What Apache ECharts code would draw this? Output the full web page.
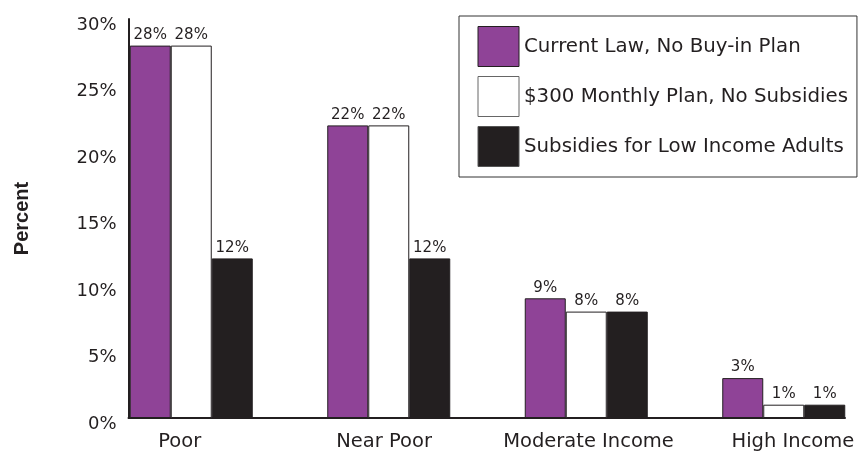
<!DOCTYPE html>
<html><head><meta charset="utf-8">
<script src="https://cdn.jsdelivr.net/npm/echarts@6/dist/echarts.min.js"></script>
<style>html,body{margin:0;padding:0;background:#fff}#c{width:859px;height:451px}</style>
</head><body><div id="c"></div>
<script>
const categories = ['Poor', 'Near Poor', 'Moderate Income', 'High Income'];
const seriesNames = ['Current Law, No Buy-in Plan', '$300 Monthly Plan, No Subsidies', 'Subsidies for Low Income Adults'];
const currentLaw = [28, 22, 9, 3];
const monthlyPlan = [28, 22, 8, 1];
const subsidies = [12, 12, 8, 1];
const yTickMin = 0, yTickMax = 30, yTickStep = 5;

const INK = '#231f20';
const colors = ['#8f4397', '#ffffff', INK];
const FONT = 'DejaVu Sans';

const chart = echarts.init(document.getElementById('c'), null, {renderer: 'canvas'});
const seriesData = [currentLaw, monthlyPlan, subsidies];
chart.setOption({
  animation: false,
  backgroundColor: '#fff',
  grid: [
    {left: 128.5, width: 716.5, top: 19, bottom: 33, outerBoundsMode: 'none'},
    {left: 92.5, width: 790, top: 19, bottom: 33, outerBoundsMode: 'none'},
    {left: 77.5, width: 817.6, top: 19, bottom: 33, outerBoundsMode: 'none'}
  ],
  xAxis: [
    {type: 'category', gridIndex: 0, data: categories, axisLine: {lineStyle: {color: INK, width: 2}},
     axisTick: {show: false}, axisLabel: {show: false}},
    {type: 'category', gridIndex: 1, data: categories, axisLine: {show: false},
     axisTick: {show: false}, axisLabel: {show: false}},
    {type: 'category', gridIndex: 2, data: categories, axisLine: {show: false},
     axisTick: {show: false}, axisLabel: {show: true, interval: 0, margin: 14, fontFamily: FONT, fontSize: 19.5, color: INK}}
  ],
  yAxis: [
    {type: 'value', gridIndex: 0, min: yTickMin, max: yTickMax, interval: yTickStep,
     axisLine: {show: true, lineStyle: {color: INK, width: 2}}, axisTick: {show: false},
     splitLine: {show: false},
     axisLabel: {formatter: '{value}%', margin: 12, fontFamily: FONT, fontSize: 18, color: INK,
                 verticalAlign: 'top', lineHeight: 12},
     name: 'Percent', nameLocation: 'middle', nameGap: 96, nameRotate: 90,
     nameTextStyle: {fontFamily: 'Liberation Sans', fontWeight: 'bold', fontSize: 20, color: INK}},
    {type: 'value', gridIndex: 1, min: yTickMin, max: yTickMax, show: false},
    {type: 'value', gridIndex: 2, min: yTickMin, max: yTickMax, show: false}
  ],
  legend: {
    orient: 'vertical', left: 459, top: 16, itemWidth: 41, itemHeight: 40, itemGap: 9,
    padding: [10, 9, 10, 18.5], borderColor: '#333', borderWidth: 1, icon: 'rect',
    textStyle: {fontFamily: FONT, fontSize: 19.8, color: INK},
    data: [
      {name: seriesNames[0], itemStyle: {borderColor: INK, borderWidth: 1}},
      {name: seriesNames[1], itemStyle: {borderColor: '#666', borderWidth: 1}},
      {name: seriesNames[2], itemStyle: {borderColor: '#555', borderWidth: 1}}
    ]
  },
  series: seriesData.map((d, i) => ({
    name: seriesNames[i], type: 'bar', xAxisIndex: 1, yAxisIndex: 1, data: d,
    barWidth: 41, barGap: '0%',
    itemStyle: {color: colors[i], borderColor: INK, borderWidth: 1},
    label: {show: true, position: 'top', distance: 3, formatter: '{c}%', fontFamily: FONT, fontSize: 15, color: INK}
  }))
});
</script></body></html>
